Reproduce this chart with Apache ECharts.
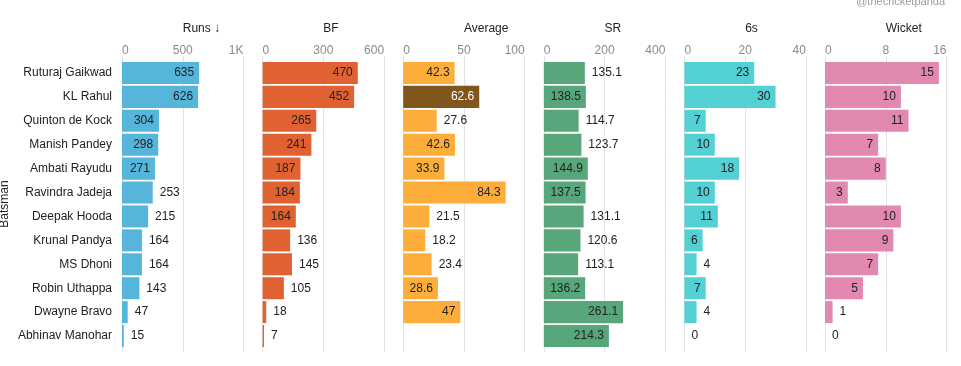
<!DOCTYPE html>
<html>
<head>
<meta charset="utf-8">
<script src="https://cdn.jsdelivr.net/npm/echarts@6/dist/echarts.min.js"></script>
<style>
html,body{margin:0;padding:0;background:#fff;}
#chart{width:961px;height:366px;}
</style>
</head>
<body>
<div id="chart"></div>
<script>
// ---- data ----
const batsmen = ['Ruturaj Gaikwad','KL Rahul','Quinton de Kock','Manish Pandey','Ambati Rayudu','Ravindra Jadeja','Deepak Hooda','Krunal Pandya','MS Dhoni','Robin Uthappa','Dwayne Bravo','Abhinav Manohar'];
const runs    = [635, 626, 304, 298, 271, 253, 215, 164, 164, 143, 47, 15];
const bf      = [470, 452, 265, 241, 187, 184, 164, 136, 145, 105, 18, 7];
const average = [42.3, 62.6, 27.6, 42.6, 33.9, 84.3, 21.5, 18.2, 23.4, 28.6, 47, null];
const sr      = [135.1, 138.5, 114.7, 123.7, 144.9, 137.5, 131.1, 120.6, 113.1, 136.2, 261.1, 214.3];
const sixes   = [23, 30, 7, 10, 18, 10, 11, 6, 4, 7, 4, 0];
const wickets = [15, 10, 11, 7, 8, 3, 10, 9, 7, 5, 1, 0];

const panelTitles = ['Runs \u2193', 'BF', 'Average', 'SR', '6s', 'Wicket'];
const runsTicks   = [0, 500, 1000];
const bfTicks     = [0, 300, 600];
const avgTicks    = [0, 50, 100];
const srTicks     = [0, 200, 400];
const sixesTicks  = [0, 20, 40];
const wicketTicks = [0, 8, 16];
const highlightAverage = 'KL Rahul';
const yAxisTitle = 'Batsman';
const credit = '@thecricketpanda';

// label placement hints (1 = inside bar)
const runsInside   = [1,1,1,1,1,0,0,0,0,0,0,0];
const bfInside     = [1,1,1,1,1,1,1,0,0,0,0,0];
const avgInside    = [1,1,0,1,1,1,0,0,0,1,1,0];
const srInside     = [0,1,0,0,1,1,0,0,0,1,1,1];
const sixesInside  = [1,1,1,1,1,1,1,1,0,1,0,0];
const wicketInside = [1,1,1,1,1,1,1,1,1,1,0,0];

// ---- layout / style ----
const FONT = '"Liberation Sans", Arial, sans-serif';
const panels = [
  {vals: runs,    ticks: runsTicks,   inside: runsInside,   color: '#55b5da'},
  {vals: bf,      ticks: bfTicks,     inside: bfInside,     color: '#e06131'},
  {vals: average, ticks: avgTicks,    inside: avgInside,    color: '#fdae3a'},
  {vals: sr,      ticks: srTicks,     inside: srInside,     color: '#57a77b'},
  {vals: sixes,   ticks: sixesTicks,  inside: sixesInside,  color: '#52d0d3'},
  {vals: wickets, ticks: wicketTicks, inside: wicketInside, color: '#e289b1'}
];
const left0 = 122, pw = 121.5, step = 140.6;
const mainTop = 61, mainH = 287, bgTop = 56, bgH = 296;

const grid = [], xAxis = [], yAxis = [], series = [], graphic = [];
function fmtTick(v){ return v >= 1000 ? (v/1000) + 'K' : String(v); }

panels.forEach((p, k) => {
  const left = left0 + k * step;
  const mx = p.ticks[p.ticks.length - 1];
  const iv = p.ticks[1] - p.ticks[0];
  // background grid: gridlines + tick labels
  grid.push({left: left, top: bgTop, width: pw, height: bgH, containLabel: false});
  xAxis.push({
    type: 'value', gridIndex: 2*k, position: 'top', min: p.ticks[0], max: mx, interval: iv,
    axisLine: {show: false}, axisTick: {show: false},
    splitLine: {show: true, lineStyle: {color: '#e0e4ea', width: 1}},
    axisLabel: {show: true, color: '#8a8a8a', fontFamily: FONT, fontSize: 12, margin: -1,
      alignMinLabel: 'left', alignMaxLabel: 'right', formatter: fmtTick}
  });
  yAxis.push({type: 'value', gridIndex: 2*k, min: 0, max: 1, show: false});
  // main grid: bars
  grid.push({left: left, top: mainTop, width: pw, height: mainH, containLabel: false});
  xAxis.push({type: 'value', gridIndex: 2*k+1, min: p.ticks[0], max: mx, interval: iv, show: false, splitLine: {show: false}});
  yAxis.push({
    type: 'category', gridIndex: 2*k+1, data: batsmen, inverse: true,
    axisLine: {show: false}, axisTick: {show: false}, splitLine: {show: false},
    axisLabel: {show: k === 0, color: '#222', fontFamily: FONT, fontSize: 12, margin: 10}
  });
  series.push({
    type: 'bar', xAxisIndex: 2*k+1, yAxisIndex: 2*k+1, barCategoryGap: '8%',
    itemStyle: {color: p.color},
    silent: true, animation: false,
    data: p.vals.map((v, i) => {
      const hl = (k === 2 && batsmen[i] === highlightAverage);
      return {
        value: v,
        itemStyle: hl ? {color: '#80561d'} : undefined,
        label: {
          show: v !== null,
          position: p.inside[i] ? 'insideRight' : 'right',
          distance: p.inside[i] ? 5 : 7,
          color: hl ? '#fff' : '#222',
          fontFamily: FONT, fontSize: 12
        }
      };
    })
  });
  graphic.push({
    type: 'text', left: left + pw/2, top: 23,
    style: {text: panelTitles[k], font: '12px ' + FONT, fill: '#222', textAlign: 'center'}
  });
});

graphic.push({
  type: 'text', x: 5, y: 204, rotation: Math.PI/2,
  style: {text: yAxisTitle, font: '12px ' + FONT, fill: '#222', textAlign: 'center', textVerticalAlign: 'middle'}
});
graphic.push({
  type: 'text', x: 945, y: 2,
  style: {text: credit, font: '11px ' + FONT, fill: '#9a9a9a', textAlign: 'right', textVerticalAlign: 'middle'}
});

const chart = echarts.init(document.getElementById('chart'), null, {renderer: 'canvas'});
chart.setOption({animation: false, backgroundColor: '#fff', grid, xAxis, yAxis, series, graphic});
</script>
</body>
</html>
